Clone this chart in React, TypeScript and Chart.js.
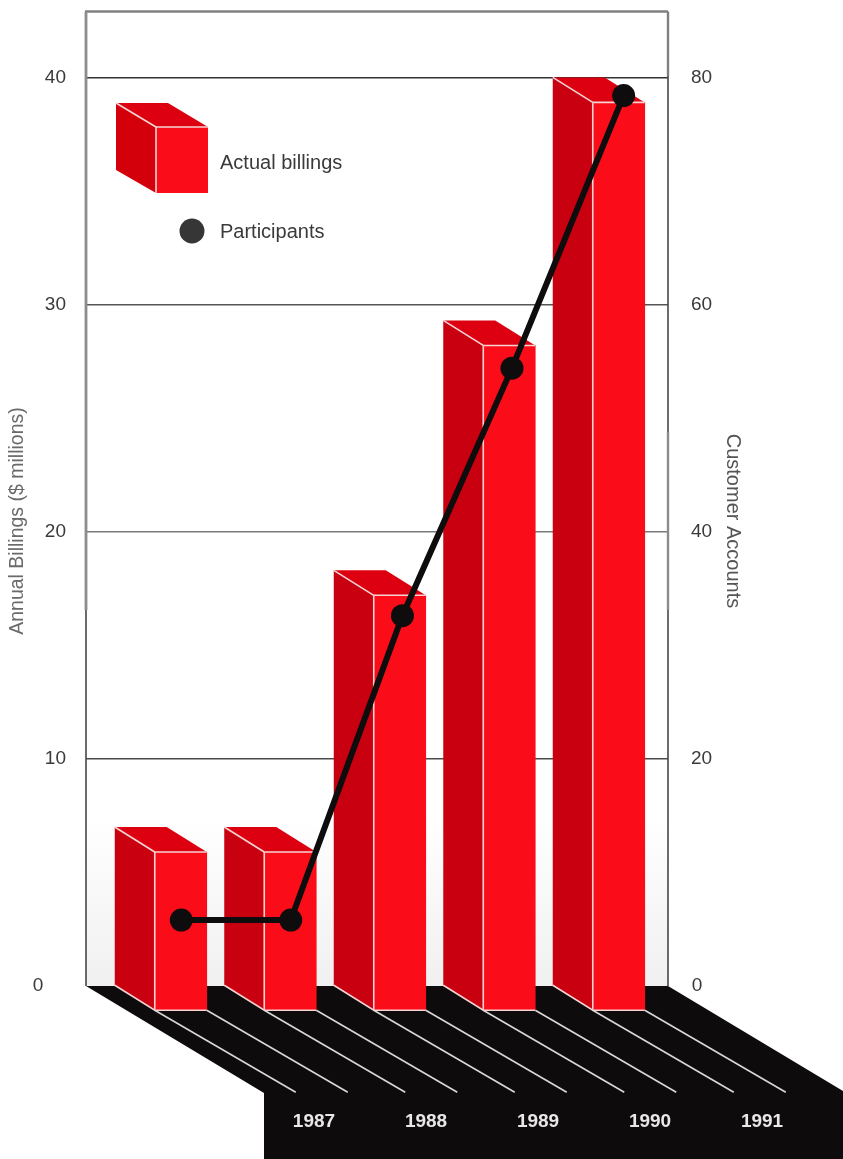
import React, { useEffect, useRef } from "react";
import { Chart, registerables } from "chart.js";

Chart.register(...registerables);

const years = [1987, 1988, 1989, 1990, 1991];
const billings = [7, 7, 18.3, 29.3, 40];
const participantPositions = [1987.37, 1988.37, 1989.39, 1990.39, 1991.41];
const participants = [5.8, 5.8, 32.6, 54.4, 78.4];

const FONT = '"Liberation Sans", Arial, sans-serif';
const INK = "#3a3a3a";
const FRONT = "#fa0d18";
const SIDE = "#c9000f";
const TOP = "#dc0010";
const EDGE = "#f6d4d4";
const DEPTH_X = 40;
const DEPTH_Y = 25;

const line = (ctx: CanvasRenderingContext2D, pts: number[][], color: string, width: number) => {
  ctx.beginPath();
  pts.forEach(([x, y], i) => (i ? ctx.lineTo(x, y) : ctx.moveTo(x, y)));
  ctx.strokeStyle = color;
  ctx.lineWidth = width;
  ctx.stroke();
};

const poly = (ctx: CanvasRenderingContext2D, pts: number[][], color: string) => {
  ctx.beginPath();
  pts.forEach(([x, y], i) => (i ? ctx.lineTo(x, y) : ctx.moveTo(x, y)));
  ctx.closePath();
  ctx.fillStyle = color;
  ctx.fill();
};

// Extruded bars: the side and top faces go behind the library's bar, which is shifted forward as the front face.
const extrusion = {
  id: "extrusion",
  beforeDraw(chart: any) {
    const { ctx, chartArea: a } = chart;
    const wall = ctx.createLinearGradient(0, 820, 0, a.bottom);
    wall.addColorStop(0, "#ffffff");
    wall.addColorStop(1, "#f0f0f0");
    ctx.save();
    ctx.fillStyle = wall;
    ctx.fillRect(a.left, 820, a.right - a.left, a.bottom - 820);
    ctx.restore();
  },
  beforeDatasetsDraw(chart: any) {
    const { ctx, chartArea: a } = chart;
    ctx.save();
    // floor band under the bars
    poly(
      ctx,
      [
        [a.left, a.bottom],
        [a.right, a.bottom],
        [843, 1091],
        [843, 1159],
        [264, 1159],
        [264, 1093],
      ],
      "#0d0b0c"
    );
    // rails running forward from the front corners of every bar
    chart.getDatasetMeta(0).data.forEach((bar: any) => {
      const l = bar.x - bar.width / 2 + DEPTH_X;
      const r = l + bar.width;
      const b = bar.base + DEPTH_Y;
      line(ctx, [[l, b], [l + 141, b + 82]], "#d8d8d8", 1.6);
      line(ctx, [[r, b], [r + 141, b + 82]], "#d8d8d8", 1.6);
    });
    ctx.restore();
  },
  beforeDatasetDraw(chart: any, args: any) {
    if (args.index !== 0) return;
    const { ctx } = chart;
    args.meta.data.forEach((bar: any) => {
      const l = bar.x - bar.width / 2;
      const r = l + bar.width;
      poly(ctx, [[l, bar.y], [l + DEPTH_X, bar.y + DEPTH_Y], [l + DEPTH_X, bar.base + DEPTH_Y], [l, bar.base]], SIDE);
      poly(ctx, [[l, bar.y], [r, bar.y], [r + DEPTH_X, bar.y + DEPTH_Y], [l + DEPTH_X, bar.y + DEPTH_Y]], TOP);
    });
    ctx.save();
    ctx.translate(DEPTH_X, DEPTH_Y);
  },
  afterDatasetDraw(chart: any, args: any) {
    if (args.index !== 0) return;
    const { ctx } = chart;
    ctx.restore();
    args.meta.data.forEach((bar: any) => {
      const l = bar.x - bar.width / 2;
      const fl = l + DEPTH_X;
      const fr = fl + bar.width;
      const ft = bar.y + DEPTH_Y;
      const fb = bar.base + DEPTH_Y;
      line(ctx, [[l, bar.y], [fl, ft]], EDGE, 1.6);
      line(ctx, [[fl, ft], [fr, ft]], EDGE, 1.6);
      line(ctx, [[fl, ft], [fl, fb]], EDGE, 1.6);
      line(ctx, [[l, bar.base], [fl, fb], [fr, fb]], EDGE, 1.6);
    });
  },
};

// Frame, axis titles, the staggered zero labels and the key.
const furniture = {
  id: "furniture",
  afterDraw(chart: any) {
    const { ctx, chartArea: a, scales } = chart;
    const y0 = scales.y.getPixelForValue(0);
    ctx.save();
    const soft = "#808080";
    const hard = "#474747";
    line(ctx, [[a.left - 1, a.top], [a.right, a.top]], soft, 2.5);
    line(ctx, [[a.left, a.top], [a.left, 610]], "#8c8c8c", 2.8);
    line(ctx, [[a.left, 610], [a.left, a.bottom]], hard, 1.6);
    line(ctx, [[a.right, a.top], [a.right, 76]], soft, 2.4);
    line(ctx, [[a.right, 76], [a.right, 432]], hard, 1.6);
    line(ctx, [[a.right, 432], [a.right, 610]], "#8c8c8c", 2.4);
    line(ctx, [[a.right, 610], [a.right, a.bottom]], hard, 1.6);

    ctx.textBaseline = "middle";
    ctx.fillStyle = INK;
    ctx.font = `19px ${FONT}`;
    ctx.textAlign = "center";
    ctx.fillText("0", 38, y0);
    ctx.fillText("0", 697, y0);

    ctx.font = `19.5px ${FONT}`;
    ctx.fillStyle = "#6a6a6a";
    ctx.save();
    ctx.translate(18, 521);
    ctx.rotate(-Math.PI / 2);
    ctx.fillText("Annual Billings ($ millions)", 0, 0);
    ctx.restore();
    ctx.fillStyle = "#555555";
    ctx.font = `20px ${FONT}`;
    ctx.save();
    ctx.translate(733, 521);
    ctx.rotate(Math.PI / 2);
    ctx.fillText("Customer Accounts", 0, 0);
    ctx.restore();

    // key
    poly(ctx, [[116, 103], [156, 127], [156, 193], [116, 170]], "#d3000c");
    poly(ctx, [[116, 103], [168, 103], [208, 127], [156, 127]], TOP);
    poly(ctx, [[156, 127], [208, 127], [208, 193], [156, 193]], FRONT);
    line(ctx, [[116, 103], [156, 127], [156, 193]], EDGE, 1.6);
    line(ctx, [[156, 127], [208, 127]], EDGE, 1.6);
    ctx.beginPath();
    ctx.arc(192, 231, 12.5, 0, Math.PI * 2);
    ctx.fillStyle = "#363636";
    ctx.fill();
    ctx.fillStyle = INK;
    ctx.font = `20px ${FONT}`;
    ctx.textAlign = "left";
    ctx.fillText("Actual billings", 220, 163);
    ctx.fillText("Participants", 220, 232);
    ctx.restore();
  },
};

const gridColors: Record<number, string> = { 10: "#4a4a4a", 20: "#7a7a7a", 30: "#555555", 40: "#333333" };

// Round-number ticks only, with no extra padding taken for the labels at the scale's ends.
const keepSteps = (step: number) => (s: any) => {
  s.ticks = s.ticks.filter((t: any) => t.value % step === 0);
};
const fixedWidth = (w: number) => (s: any) => {
  s.width = w;
  s.paddingTop = 0;
  s.paddingBottom = 0;
};

export default function App() {
  const ref = useRef<HTMLCanvasElement>(null);

  useEffect(() => {
    const chart = new Chart(ref.current!, {
      type: "bar",
      data: {
        datasets: [
          {
            type: "bar",
            label: "Actual billings",
            data: years.map((x, i) => ({ x, y: billings[i] })),
            backgroundColor: FRONT,
            barThickness: 52,
            clip: false,
            order: 2,
            xAxisID: "x",
            yAxisID: "y",
          },
          {
            type: "line",
            label: "Participants",
            data: participantPositions.map((x, i) => ({ x, y: participants[i] })),
            borderColor: "#0e0c0d",
            borderWidth: 6,
            pointRadius: 11.5,
            pointBackgroundColor: "#0e0c0d",
            pointBorderWidth: 0,
            clip: false,
            order: 1,
            xAxisID: "x",
            yAxisID: "y2",
          },
        ],
      } as any,
      options: {
        animation: false,
        responsive: false,
        layout: { padding: { top: 10 } },
        plugins: { legend: { display: false }, tooltip: { enabled: false } },
        scales: {
          x: {
            type: "linear",
            axis: "x",
            display: false,
            offset: false,
            min: 1986.5,
            max: 1991.815,
          },
          xYears: {
            type: "linear",
            axis: "x",
            position: "bottom",
            offset: false,
            min: 1986.75,
            max: 1991.946,
            afterBuildTicks: (s: any) => {
              s.ticks = years.map((value) => ({ value }));
            },
            afterFit: (s: any) => {
              s.height = 173;
              s.paddingLeft = 0;
              s.paddingRight = 0;
            },
            grid: { display: false, drawTicks: false },
            border: { display: false },
            ticks: {
              z: 1,
              autoSkip: false,
              maxRotation: 0,
              labelOffset: 200,
              padding: 124,
              color: "#e8e8e8",
              font: { family: FONT, size: 19, weight: "bold" },
              callback: (v: any) => String(v),
            },
          },
          y: {
            position: "left",
            min: 0,
            max: 42.9,
            afterBuildTicks: keepSteps(10),
            afterFit: fixedWidth(86),
            border: { display: false },
            grid: {
              drawTicks: false,
              lineWidth: 1.6,
              color: (c: any) => (c.tick.value === 0 ? "transparent" : gridColors[c.tick.value] ?? "#555555"),
            },
            ticks: {
              stepSize: 10,
              padding: 20,
              color: INK,
              font: { family: FONT, size: 19 },
              callback: (v: any) => (v === 0 ? "" : String(v)),
            },
          },
          y2: {
            position: "right",
            min: 0,
            max: 85.8,
            afterBuildTicks: keepSteps(20),
            afterFit: fixedWidth(175),
            border: { display: false },
            grid: { display: false, drawTicks: false },
            ticks: {
              stepSize: 20,
              padding: 23,
              color: INK,
              font: { family: FONT, size: 19 },
              callback: (v: any) => (v === 0 ? "" : String(v)),
            },
          },
        },
      } as any,
      plugins: [extrusion, furniture],
    });
    return () => chart.destroy();
  }, []);

  return (
    <div style={{ position: "absolute", left: 0, top: 0, width: 843, height: 1159, background: "#ffffff", overflow: "hidden" }}>
      <canvas ref={ref} width={843} height={1159} style={{ display: "block" }} />
    </div>
  );
}
